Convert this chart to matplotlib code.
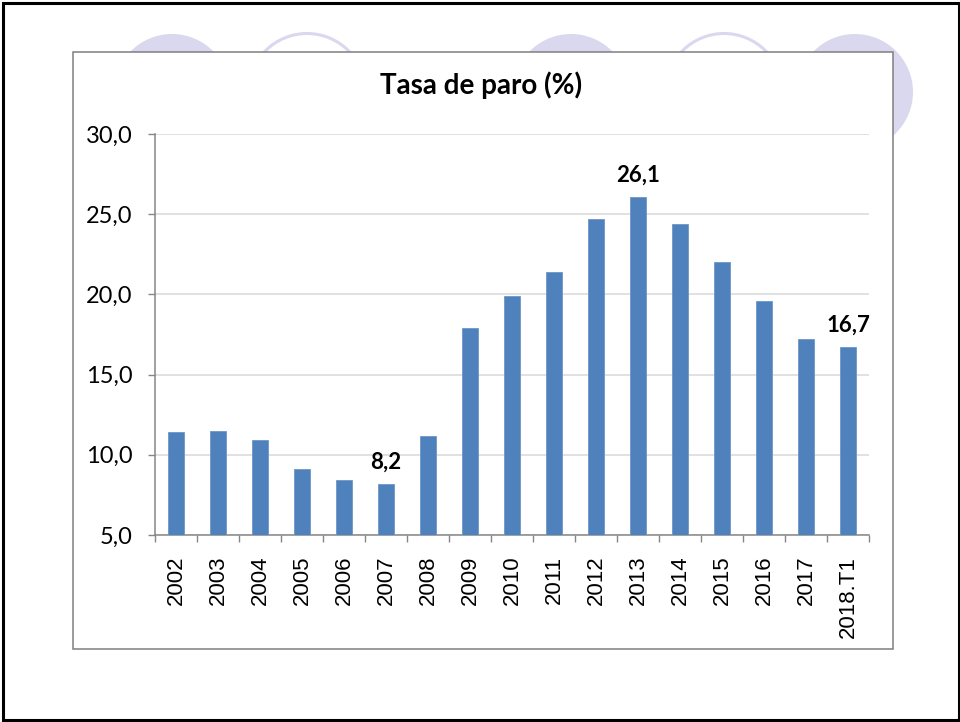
import matplotlib
matplotlib.use("Agg")
import matplotlib.pyplot as plt
from matplotlib.patches import Circle, Rectangle
from matplotlib.ticker import FuncFormatter, FixedLocator
import numpy as np

# ── datos ──
years = ["2002", "2003", "2004", "2005", "2006", "2007", "2008", "2009", "2010",
         "2011", "2012", "2013", "2014", "2015", "2016", "2017", "2018.T1"]
paro = [11.4, 11.5, 10.9, 9.1, 8.4, 8.2, 11.2, 17.9, 19.9,
        21.4, 24.7, 26.1, 24.4, 22.0, 19.6, 17.2, 16.7]
etiquetas = ["2007", "2013", "2018.T1"]   # barras con valor rotulado

BLUE = "#4f81bd"
GRID = "#d9d9d9"
AXIS = "#868686"
LAV = "#d9d8ee"

fig = plt.figure(figsize=(9.6, 7.22), dpi=100)
fig.patch.set_facecolor("white")

# ── fondo de la diapositiva (coordenadas en píxeles) ──
bg = fig.add_axes([0, 0, 1, 1], zorder=0)
bg.set_xlim(0, 960)
bg.set_ylim(722, 0)
bg.axis("off")

for cx, filled in [(172, True), (307, False), (571, True), (724, False), (855, True)]:
    if filled:
        bg.add_patch(Circle((cx, 92), 58, facecolor=LAV, edgecolor="none"))
    else:
        bg.add_patch(Circle((cx, 92), 58.5, facecolor="white", edgecolor=LAV, lw=2.2))

bg.add_patch(Rectangle((73, 52), 820, 597, facecolor="white", edgecolor="#7f7f7f", lw=1.1))
bg.add_patch(Rectangle((2.5, 2.5), 956, 717, facecolor="none", edgecolor="black", lw=2.2))

bg.text(481, 94, "Tasa de paro (%)", ha="center", va="baseline",
        fontsize=20, fontweight="bold", family=["Lato", "DejaVu Sans"])

# ── gráfico ──
ax = fig.add_axes([155 / 960, (722 - 535) / 722, 714 / 960, 401 / 722], zorder=2)
ax.set_facecolor("none")

x = np.arange(len(years))
ax.bar(x, paro, width=0.38, color=BLUE, edgecolor="#6d96c8", linewidth=0.6, zorder=3)

ax.set_xlim(-0.5, len(years) - 0.5)
ax.set_ylim(5, 30)
ax.set_yticks(np.arange(5, 31, 5))
ax.yaxis.set_major_formatter(FuncFormatter(lambda v, p: f"{v:.1f}".replace(".", ",")))
ax.grid(axis="y", color=GRID, lw=1.1, zorder=0)
ax.set_axisbelow(True)

ax.set_xticks(x)
ax.set_xticklabels(years, rotation=90, fontsize=16, family=["Liberation Sans", "DejaVu Sans"])
ax.xaxis.set_minor_locator(FixedLocator(np.arange(-0.5, len(years), 1)))
ax.tick_params(axis="x", which="major", length=0, pad=15)
ax.tick_params(axis="x", which="minor", length=5, color=AXIS, width=1)
ax.tick_params(axis="y", length=5, color=AXIS, width=1, pad=11)
for lbl in ax.get_yticklabels():
    lbl.set_fontsize(17)
    lbl.set_family(["Lato", "DejaVu Sans"])

for s in ["top", "right"]:
    ax.spines[s].set_visible(False)
for s in ["left", "bottom"]:
    ax.spines[s].set_color(AXIS)
    ax.spines[s].set_linewidth(1.1)

for i, (yr, v) in enumerate(zip(years, paro)):
    if yr in etiquetas:
        ax.annotate(f"{v:.1f}".replace(".", ","), xy=(i, v), xytext=(0, 11),
                    textcoords="offset points", ha="center", va="baseline",
                    fontsize=16, fontweight="bold", family=["Lato", "DejaVu Sans"])

fig.savefig("out.png", dpi=100, facecolor="white")
